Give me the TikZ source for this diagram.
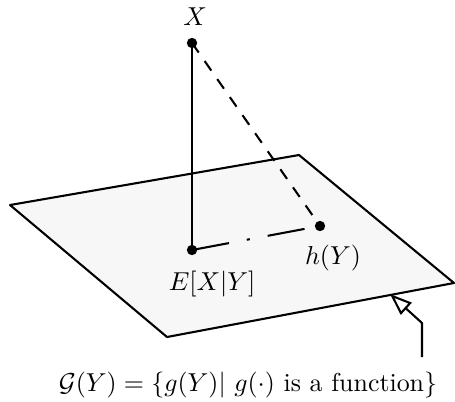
\documentclass[tikz,border=0pt]{standalone}
\usetikzlibrary{arrows.meta}
\begin{document}
\begin{tikzpicture}[x=0.01356cm, y=-0.01356cm, line width=0.8pt,
          pt/.style={circle, fill=black, inner sep=0pt, minimum size=4pt},
          lbl/.style={inner sep=1pt},
          plane/.style={draw, fill=black!3, line join=round},
          longdash/.style={dash pattern=on 4.5pt off 4pt},
          dashdot/.style={dash pattern=on 14.5pt off 7pt on 1.2pt off 7pt},
          >={Triangle[open, length=8.5pt, width=6.2pt, line width=0.8pt]}]
        \useasboundingbox (0,0) rectangle (455,401);
        % the plane of functions of Y
        \coordinate (pl) at (10,205);
        \coordinate (ptop) at (299,155);
        \coordinate (pr) at (454,283);
        \coordinate (pb) at (167,337);
        \draw[plane] (pl) -- (ptop) -- (pr) -- (pb) -- cycle;
        % points
        \node[pt] (x) at (192,43) {};
        \node[pt] (e) at (192,250) {};
        \node[pt] (h) at (320,226) {};
        \node[lbl] (xl) at (195,17) {$X$};
        \node[lbl] (el) at (212,284) {$E[X|Y]$};
        \node[lbl] (hl) at (333,258) {$h(Y)$};
        \draw (x.center) -- (e.center);
        \draw[longdash] (x.center) -- (h.center);
        \draw[dashdot] (e.center) -- (h.center);
        % pointer to the plane
        \coordinate (a0) at (422,357);
        \coordinate (a1) at (422,323);
        \coordinate (tip) at (390,294);
        \draw[->] (a0) -- (a1) -- (tip);
        \node[lbl] (set) at (248,385) {$\mathcal{G}(Y)=\{g(Y)|\ g(\cdot)\mbox{ is a function}\}$};
\end{tikzpicture}
\end{document}
